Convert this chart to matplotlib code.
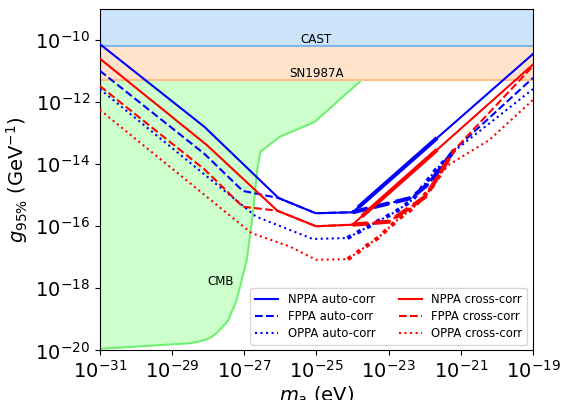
import numpy as np
import matplotlib
matplotlib.use("Agg")
import matplotlib.pyplot as plt
from matplotlib.ticker import NullLocator

# ---- data (log10 values) ----
cast_limit = 6.6e-11
sn_limit = 5.3e-12

cmb_logm = [-31.0, -28.51, -28.2, -27.95, -27.76, -27.45, -27.21, -26.93, -26.77, -26.63, -26.55, -26.02, -25.05, -23.75]
cmb_logg = [-19.95, -19.77, -19.70, -19.60, -19.44, -19.05, -18.38, -17.09, -15.70, -14.09, -13.60, -13.12, -12.64, -11.29]

nppa_auto_logm = [-31.0, -28.1, -26.05, -25.02, -24.0, -23.8, -21.7, -19.0]
nppa_auto_logg = [-10.13, -12.80, -15.09, -15.58, -15.55, -15.35, -13.20, -10.45]

nppa_cross_logm = [-31.0, -28.04, -26.08, -25.01, -24.0, -23.7, -21.7, -19.0]
nppa_cross_logg = [-10.60, -13.38, -15.50, -16.00, -15.95, -15.64, -13.58, -10.79]

fppa_auto_logm = [-31.0, -28.1, -27.04, -26.05, -25.02, -24.0, -22.38, -21.87, -21.18, -19.0]
fppa_auto_logg = [-10.99, -13.67, -14.86, -15.09, -15.58, -15.55, -15.09, -14.61, -13.54, -11.22]

fppa_cross_logm = [-31.0, -28.10, -27.04, -26.08, -25.01, -24.0, -22.98, -21.97, -21.18, -19.0]
fppa_cross_logg = [-11.48, -14.17, -15.37, -15.50, -16.00, -15.95, -15.85, -15.04, -13.54, -10.84]

oppa_auto_logm = [-31.0, -26.67, -25.10, -24.14, -22.79, -22.34, -21.69, -21.14, -19.0]
oppa_auto_logg = [-11.58, -15.69, -16.41, -16.38, -15.52, -15.15, -14.18, -13.54, -11.58]

oppa_cross_logm = [-31.0, -26.80, -25.74, -25.01, -24.13, -23.30, -22.70, -22.33, -21.79, -21.43, -20.21, -19.0]
oppa_cross_logg = [-12.25, -16.22, -16.65, -17.08, -17.06, -16.38, -15.74, -15.42, -14.72, -14.09, -13.22, -11.93]

# (label, x, y, colour, style, index range of the heavier overlay segment)
series = [
    ("NPPA auto-corr", nppa_auto_logm, nppa_auto_logg, "blue", "-", (5, 7)),
    ("FPPA auto-corr", fppa_auto_logm, fppa_auto_logg, "blue", "--", (5, 9)),
    ("OPPA auto-corr", oppa_auto_logm, oppa_auto_logg, "blue", ":", (3, 8)),
    ("NPPA cross-corr", nppa_cross_logm, nppa_cross_logg, "red", "-", (5, 7)),
    ("FPPA cross-corr", fppa_cross_logm, fppa_cross_logg, "red", "--", (5, 9)),
    ("OPPA cross-corr", oppa_cross_logm, oppa_cross_logg, "red", ":", (4, 10)),
]

xticks_exp = [-31, -29, -27, -25, -23, -21, -19]
yticks_exp = [-20, -18, -16, -14, -12, -10]

fig = plt.figure(figsize=(5.61, 4.0), dpi=100)
ax = fig.add_axes([0.178, 0.124, 0.772, 0.8535])
ax.set_xscale("log")
ax.set_yscale("log")
ax.set_xlim(1e-31, 1e-19)
ax.set_ylim(1e-20, 1e-9)

# CMB region
cm = 10.0 ** np.array(cmb_logm)
cg = 10.0 ** np.array(cmb_logg)
ax.fill_between(cm, cg, sn_limit, facecolor="#ccffcc", edgecolor="none", zorder=1)
ax.plot(cm, cg, color="#70f070", lw=1.5, zorder=1.5)

# bands
ax.axhspan(cast_limit, 1e-9, facecolor="#cce4f9", edgecolor="none", zorder=2)
ax.axhspan(sn_limit, cast_limit, facecolor="#ffe3cb", edgecolor="none", zorder=2)
ax.axhline(cast_limit, color="#7fb5e8", lw=1.5, zorder=2.1)
ax.axhline(sn_limit, color="#fbbf85", lw=1.5, zorder=2.1)

for label, lm, lg, c, ls, (i0, i1) in series:
    m = 10.0 ** np.array(lm)
    g = 10.0 ** np.array(lg)
    ax.plot(m, g, color=c, ls=ls, lw=1.5, label=label, zorder=3)
    ax.plot(m[i0:i1], g[i0:i1], color=c, ls=ls, lw=3.0, zorder=3)

ax.text(1e-25, 10 ** -9.97, "CAST", ha="center", va="center", fontsize=8.6, zorder=4)
ax.text(1e-25, 10 ** -11.07, "SN1987A", ha="center", va="center", fontsize=8.6, zorder=4)
ax.text(10 ** -27.65, 10 ** -17.79, "CMB", ha="center", va="center", fontsize=8.6, zorder=4)

ax.set_xticks([10.0 ** e for e in xticks_exp])
ax.set_yticks([10.0 ** e for e in yticks_exp])
ax.xaxis.set_minor_locator(NullLocator())
ax.yaxis.set_minor_locator(NullLocator())
ax.tick_params(labelsize=14)
ax.set_xlabel(r"$m_a$ (eV)", fontsize=14, labelpad=2)
ax.set_ylabel(r"$g_{95\%}$ (GeV$^{-1}$)", fontsize=14)

ax.legend(loc="lower right", ncol=2, fontsize=8.4, labelspacing=0.35)

fig.savefig("out.png", dpi=100)
